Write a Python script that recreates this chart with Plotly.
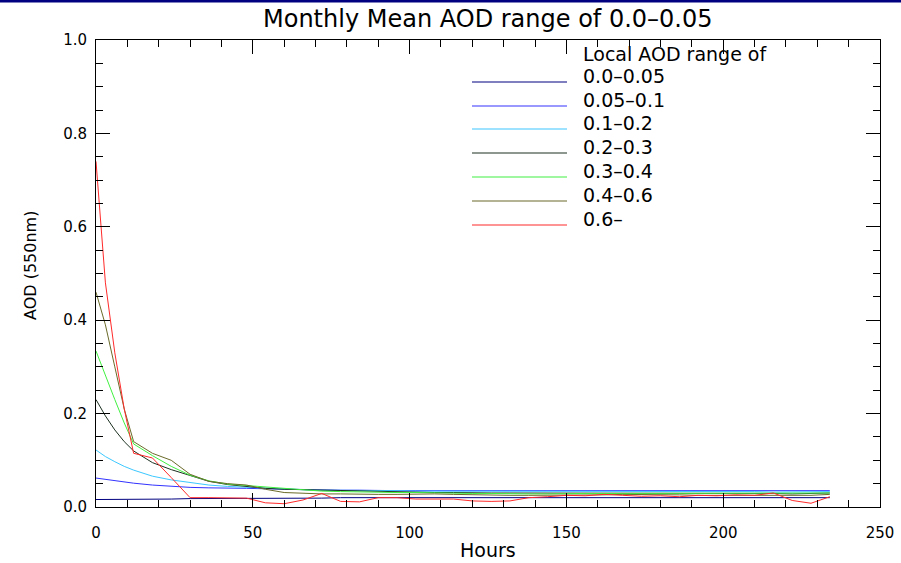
import plotly.graph_objects as go

hours = [0, 3, 6, 9, 12, 18, 24, 30, 36, 42, 48, 54, 60, 66, 72, 78, 84, 90, 96, 102,
         108, 114, 120, 126, 132, 138, 144, 150, 156, 162, 168, 174, 180, 186, 192, 198,
         204, 210, 216, 222, 228, 234]

aod_000_005 = [0.016, 0.016, 0.016, 0.017, 0.017, 0.017, 0.017, 0.018, 0.018, 0.018, 0.018,
               0.019, 0.019, 0.019, 0.019, 0.020, 0.020, 0.020, 0.020, 0.020, 0.020, 0.020,
               0.020, 0.020, 0.020, 0.020, 0.020, 0.020, 0.020, 0.020, 0.020, 0.020, 0.020,
               0.020, 0.020, 0.020, 0.020, 0.020, 0.020, 0.020, 0.020, 0.020]
aod_005_01 = [0.062, 0.059, 0.056, 0.053, 0.051, 0.047, 0.044, 0.042, 0.041, 0.041, 0.040,
              0.039, 0.038, 0.037, 0.037, 0.036, 0.036, 0.035, 0.035, 0.035, 0.035, 0.034,
              0.034, 0.034, 0.034, 0.034, 0.035, 0.035, 0.035, 0.035, 0.034, 0.034, 0.035,
              0.035, 0.035, 0.035, 0.035, 0.035, 0.035, 0.035, 0.035, 0.035]
aod_01_02 = [0.122, 0.108, 0.097, 0.087, 0.079, 0.066, 0.058, 0.052, 0.047, 0.044, 0.042,
             0.040, 0.038, 0.037, 0.036, 0.036, 0.035, 0.035, 0.035, 0.034, 0.034, 0.034,
             0.034, 0.034, 0.034, 0.034, 0.034, 0.034, 0.033, 0.034, 0.034, 0.033, 0.033,
             0.033, 0.033, 0.033, 0.033, 0.033, 0.032, 0.032, 0.032, 0.033]
aod_02_03 = [0.230, 0.195, 0.165, 0.140, 0.120, 0.095, 0.080, 0.067, 0.055, 0.048, 0.044,
             0.040, 0.038, 0.037, 0.036, 0.035, 0.034, 0.033, 0.032, 0.032, 0.031, 0.031,
             0.030, 0.030, 0.030, 0.030, 0.030, 0.029, 0.029, 0.030, 0.030, 0.029, 0.029,
             0.030, 0.030, 0.029, 0.029, 0.030, 0.029, 0.028, 0.029, 0.030]
aod_03_04 = [0.334, 0.280, 0.230, 0.180, 0.135, 0.110, 0.087, 0.068, 0.056, 0.049, 0.046,
             0.042, 0.039, 0.036, 0.034, 0.033, 0.032, 0.032, 0.031, 0.031, 0.030, 0.029,
             0.029, 0.029, 0.028, 0.028, 0.028, 0.029, 0.029, 0.029, 0.029, 0.030, 0.030,
             0.029, 0.029, 0.029, 0.030, 0.030, 0.030, 0.029, 0.029, 0.030]
aod_04_06 = [0.460, 0.390, 0.300, 0.210, 0.140, 0.115, 0.100, 0.070, 0.055, 0.050, 0.047,
             0.038, 0.031, 0.029, 0.028, 0.028, 0.027, 0.027, 0.027, 0.028, 0.028, 0.027,
             0.026, 0.026, 0.025, 0.025, 0.025, 0.025, 0.026, 0.026, 0.027, 0.027, 0.026,
             0.026, 0.025, 0.025, 0.026, 0.026, 0.025, 0.025, 0.025, 0.027]
aod_06_up = [0.740, 0.480, 0.330, 0.210, 0.115, 0.105, 0.063, 0.020, 0.020, 0.019, 0.019,
             0.009, 0.007, 0.015, 0.029, 0.012, 0.011, 0.020, 0.020, 0.017, 0.017, 0.017,
             0.013, 0.012, 0.013, 0.020, 0.022, 0.025, 0.024, 0.027, 0.025, 0.023, 0.024,
             0.022, 0.025, 0.024, 0.026, 0.025, 0.030, 0.014, 0.008, 0.022]

series_names = ["0.0–0.05", "0.05–0.1", "0.1–0.2", "0.2–0.3", "0.3–0.4", "0.4–0.6", "0.6–"]
series_values = [aod_000_005, aod_005_01, aod_01_02, aod_02_03, aod_03_04, aod_04_06, aod_06_up]
series_colors = ["#000080", "#3232ff", "#3cc8ff", "#1c3020", "#40f040", "#6b6b2a", "#ff2a2a"]

title_text = "Monthly Mean AOD range of 0.0–0.05"
legend_header = "Local AOD range of"
x_title = "Hours"
y_title = "AOD (550nm)"

FONT = "DejaVu Sans ExtraLight, DejaVu Sans"
W, H = 901, 563
L, R, T, B = 96, 880, 40, 507  # plot-area pixel edges

def px_to_paper_x(px):
    return (px - L) / (R - L)

def py_to_paper_y(py):
    return (B - py) / (B - T)

fig = go.Figure()
for name, vals, col in zip(series_names, series_values, series_colors):
    fig.add_trace(go.Scatter(x=hours, y=vals, mode="lines", name=name,
                             line=dict(color=col, width=1), showlegend=False))

axis_common = dict(
    showgrid=False, zeroline=False, showline=True, linecolor="black", linewidth=1,
    mirror="ticks", ticks="inside", ticklen=14, tickwidth=1, tickcolor="black",
    tickfont=dict(family=FONT, size=15, color="black"), automargin=False,
)
fig.update_xaxes(range=[0, 250], dtick=50, tick0=0,
                 minor=dict(ticks="inside", ticklen=7, dtick=10, tickcolor="black"),
                 ticklabelstandoff=12, **axis_common)
fig.update_yaxes(range=[0, 1], dtick=0.2, tick0=0, tickformat=".1f",
                 minor=dict(ticks="inside", ticklen=7, dtick=0.05, tickcolor="black"),
                 ticklabelstandoff=5, **axis_common)

shapes = []
annotations = []

# legend lines + labels
row_y = [82, 106, 129, 153, 177, 201, 225]
for ry, name, col in zip(row_y, series_names, series_colors):
    shapes.append(dict(type="line", xref="paper", yref="paper",
                       x0=px_to_paper_x(472), x1=px_to_paper_x(567),
                       y0=py_to_paper_y(ry), y1=py_to_paper_y(ry),
                       line=dict(color=col, width=1.2)))
    annotations.append(dict(xref="paper", yref="paper", x=px_to_paper_x(581),
                            y=py_to_paper_y(ry - 6), text=name, showarrow=False,
                            xanchor="left", yanchor="middle",
                            font=dict(family=FONT, size=19, color="black")))
annotations.append(dict(xref="paper", yref="paper", x=px_to_paper_x(581),
                        y=py_to_paper_y(54), text=legend_header, showarrow=False,
                        xanchor="left", yanchor="middle",
                        font=dict(family=FONT, size=19, color="black")))

# title and axis titles
annotations.append(dict(xref="paper", yref="paper", x=px_to_paper_x(488), y=py_to_paper_y(19),
                        text=title_text, showarrow=False, xanchor="center", yanchor="middle",
                        font=dict(family=FONT, size=24, color="black")))
annotations.append(dict(xref="paper", yref="paper", x=px_to_paper_x(488), y=py_to_paper_y(550),
                        text=x_title, showarrow=False, xanchor="center", yanchor="middle",
                        font=dict(family=FONT, size=19, color="black")))
annotations.append(dict(xref="paper", yref="paper", x=px_to_paper_x(30), y=py_to_paper_y(266),
                        text=y_title, showarrow=False, textangle=-90,
                        xanchor="center", yanchor="middle",
                        font=dict(family=FONT, size=16, color="black")))

# navy band at very top of the image
shapes.append(dict(type="rect", xref="paper", yref="paper",
                   x0=px_to_paper_x(0), x1=px_to_paper_x(W),
                   y0=py_to_paper_y(2.5), y1=py_to_paper_y(0),
                   fillcolor="#000080", line=dict(width=0), layer="above"))

fig.update_layout(
    width=W, height=H, autosize=False,
    margin=dict(l=L, r=W - R, t=T, b=H - B, pad=0, autoexpand=False),
    paper_bgcolor="white", plot_bgcolor="white",
    shapes=shapes, annotations=annotations, showlegend=False,
)

fig.write_html(
    "out.html",
    config={"displayModeBar": False, "responsive": False},
    post_script="document.body.style.margin='0px';document.body.style.overflow='hidden';",
)
